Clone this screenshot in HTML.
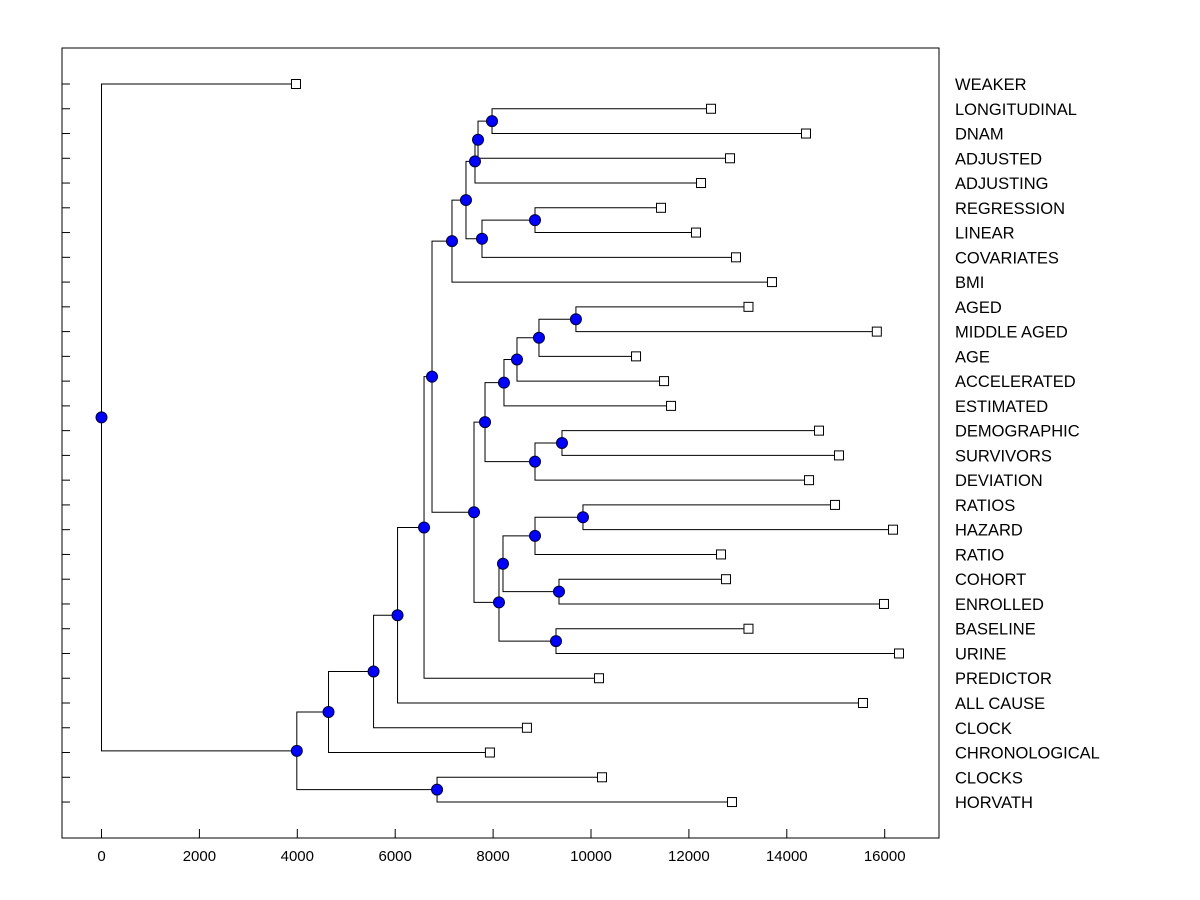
<!DOCTYPE html>
<html><head><meta charset="utf-8"><style>
html,body{margin:0;padding:0;background:#fff;}
svg{display:block;font-family:"Liberation Sans",Arial,sans-serif;}
</style></head><body>
<svg id="chart" width="1200" height="900" viewBox="0 0 1200 900" xmlns="http://www.w3.org/2000/svg">
<rect x="0" y="0" width="1200" height="900" fill="#fff"/>
<g id="axes"></g><g id="links"></g><g id="marks"></g><g id="labels"></g>
</svg>
<script>
const leafNames = ["WEAKER","LONGITUDINAL","DNAM","ADJUSTED","ADJUSTING","REGRESSION","LINEAR","COVARIATES","BMI","AGED","MIDDLE AGED","AGE","ACCELERATED","ESTIMATED","DEMOGRAPHIC","SURVIVORS","DEVIATION","RATIOS","HAZARD","RATIO","COHORT","ENROLLED","BASELINE","URINE","PREDICTOR","ALL CAUSE","CLOCK","CHRONOLOGICAL","CLOCKS","HORVATH"];
const leafValues = [3973,12452,14392,12840,12247,11430,12145,12962,13697,13217,15839,10920,11492,11635,14658,15066,14454,14985,16170,12656,12758,15985,13217,16292,10163,15556,8691,7935,10225,12880];
const mergeLeft  = ["LONGITUDINAL","n1","n2","REGRESSION","n4","n3","n6","AGED","n8","n9","n10","DEMOGRAPHIC","n12","n11","RATIOS","n15","COHORT","n16","BASELINE","n18","n14","n7","n22","n23","n24","n25","CLOCKS","n26","WEAKER"];
const mergeRight = ["DNAM","ADJUSTED","ADJUSTING","LINEAR","COVARIATES","n5","BMI","MIDDLE AGED","AGE","ACCELERATED","ESTIMATED","SURVIVORS","DEVIATION","n13","HAZARD","RATIO","ENROLLED","n17","URINE","n19","n20","n21","PREDICTOR","ALL CAUSE","CLOCK","CHRONOLOGICAL","HORVATH","n27","n28"];
const mergeHeights = [7978,7692,7630,8856,7773,7446,7160,9692,8937,8488,8222,9407,8856,7835,9836,8856,9346,8202,9285,8120,7610,6752,6589,6048,5558,4638,6855,3990,0];
const xTicks = [0,2000,4000,6000,8000,10000,12000,14000,16000];

const NS="http://www.w3.org/2000/svg";
const X0=62,X1=939,Y0=48,Y1=838;
const xs = v => 101.5 + v*0.04895;
const ys = i => 84 + i*24.76;
function mk(tag,attrs,parent){const e=document.createElementNS(NS,tag);for(const k in attrs)e.setAttribute(k,attrs[k]);document.getElementById(parent).appendChild(e);return e;}

const axes='axes';
let fr=mk('rect',{x:X0,y:Y0,width:X1-X0,height:Y1-Y0,fill:'none',stroke:'#000','stroke-width':1},axes);


xTicks.forEach(t=>{
  const l=mk('line',{x1:xs(t),x2:xs(t),y1:Y1,y2:Y1-9,stroke:'#000'},axes);
  
  
  const tx=mk('text',{x:xs(t),y:861,'text-anchor':'middle','font-size':15},axes);
  tx.textContent=t;
  
  
});
leafNames.forEach((n,i)=>{
  const l=mk('line',{x1:X0,x2:X0+8,y1:ys(i),y2:ys(i),stroke:'#000'},axes);
  
  
  const tx=mk('text',{x:955,y:ys(i)+6,'font-size':16.5},'labels');
  tx.textContent=n;
  
  
});

const pos={};
leafNames.forEach((n,i)=>{pos[n]={x:leafValues[i],y:ys(i)};});
for(let k=0;k<mergeLeft.length;k++){
  const a=pos[mergeLeft[k]],b=pos[mergeRight[k]],h=mergeHeights[k];
  const px=xs(h);
  const ln=mk('polyline',{points:`${xs(a.x)},${a.y} ${px},${a.y} ${px},${b.y} ${xs(b.x)},${b.y}`,fill:'none',stroke:'#000','stroke-width':1},'links');
  
  
  pos['n'+(k+1)]={x:h,y:(a.y+b.y)/2};
}
leafNames.forEach((n,i)=>{
  const r=mk('rect',{x:xs(leafValues[i])-4.5,y:ys(i)-4.5,width:9,height:9,fill:'#fff',stroke:'#000'},'marks');
  
  
});
for(let k=0;k<mergeLeft.length;k++){
  const p=pos['n'+(k+1)];
  const c=mk('circle',{cx:xs(p.x),cy:p.y,r:5.5,fill:'#0000ff',stroke:'#000033','stroke-width':1},'marks');
  
  
}
</script>
</body></html>
